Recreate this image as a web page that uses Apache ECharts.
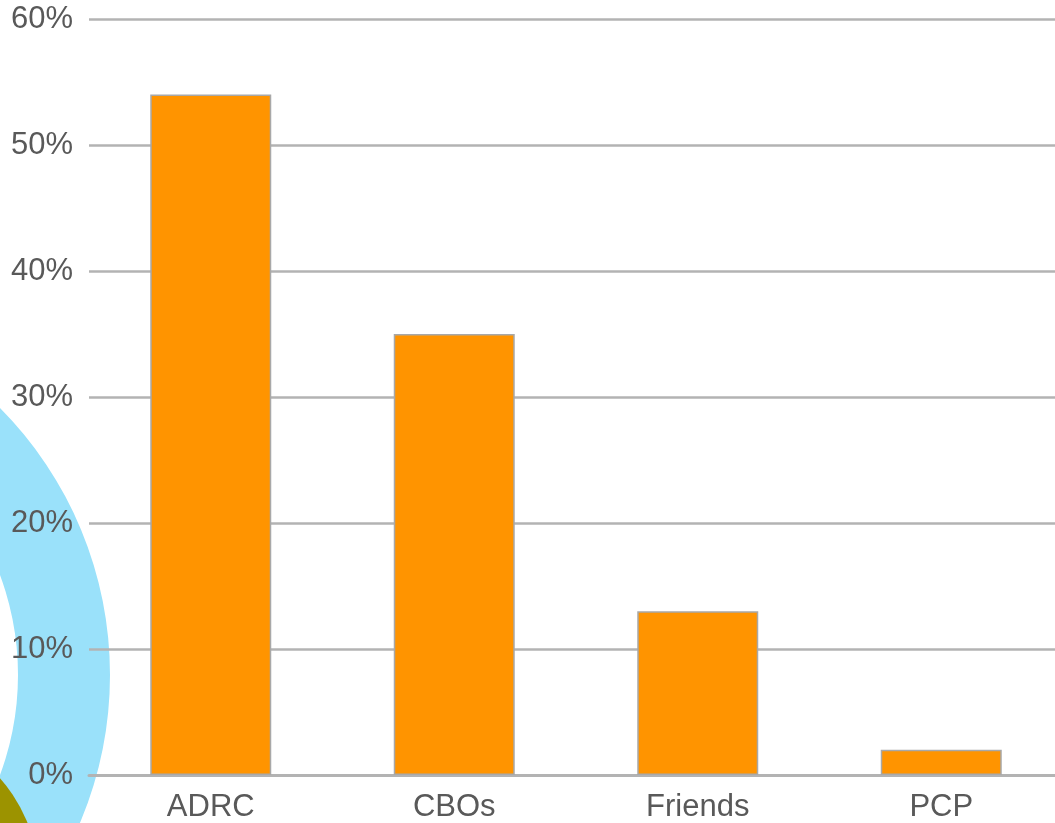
<!DOCTYPE html>
<html>
<head>
<meta charset="utf-8">
<script src="https://cdn.jsdelivr.net/npm/echarts@6/dist/echarts.min.js"></script>
<style>
  html, body { margin: 0; padding: 0; background: #ffffff; }
  #chart { width: 1055px; height: 823px; }
</style>
</head>
<body>
<div id="chart"></div>
<script>
// Share of referrals by source (percent)
const categories = ['ADRC', 'CBOs', 'Friends', 'PCP'];
const shares = [54, 35, 13, 2];
const yTicks = [0, 10, 20, 30, 40, 50, 60];

const chart = echarts.init(document.getElementById('chart'), null, { renderer: 'canvas' });

const labelFont = '"Liberation Sans", Arial, sans-serif';

chart.setOption({
  backgroundColor: '#ffffff',
  animation: false,
  // Decorative background shapes in the lower-left corner
  graphic: [
    {
      type: 'ring',
      z: -10,
      silent: true,
      shape: { cx: -269, cy: 675, r: 379, r0: 287 },
      style: { fill: '#9ae1fa' }
    },
    {
      type: 'circle',
      z: -9,
      silent: true,
      shape: { cx: -112, cy: 878, r: 150 },
      style: { fill: '#9c9300' }
    }
  ],
  // The plot runs slightly past the right edge of the canvas
  grid: { left: 89, width: 974, top: 19, height: 756, outerBoundsMode: 'none', containLabel: false },
  xAxis: {
    type: 'category',
    data: categories,
    axisTick: { show: false },
    axisLine: { show: true, lineStyle: { color: '#b3b3b3', width: 3 } },
    axisLabel: {
      margin: 17,
      fontSize: 31,
      color: '#595959',
      fontFamily: labelFont
    }
  },
  yAxis: {
    type: 'value',
    min: yTicks[0],
    max: yTicks[yTicks.length - 1],
    interval: 10,
    axisLine: { show: false },
    axisTick: { show: false },
    splitLine: { lineStyle: { color: '#b3b3b3', width: 2.5 } },
    axisLabel: {
      margin: 16,
      fontSize: 31,
      color: '#595959',
      fontFamily: labelFont,
      padding: [6, 0, 0, 0],
      formatter: v => v + '%'
    }
  },
  series: [{
    type: 'bar',
    data: shares,
    barWidth: 121,
    itemStyle: {
      color: '#ff9400',
      borderColor: '#a8a8a8',
      borderWidth: 1.5
    }
  }]
});
</script>
</body>
</html>
